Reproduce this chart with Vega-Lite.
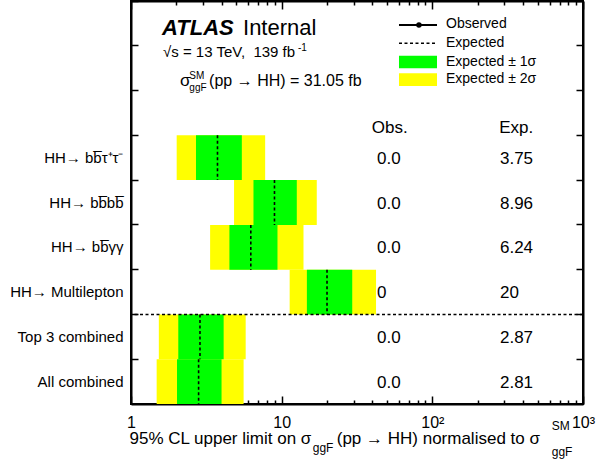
{
  "$schema": "https://vega.github.io/schema/vega-lite/v6.json",
  "width": 452,
  "height": 403,
  "autosize": {"type": "none"},
  "padding": {"left": 131, "top": 1, "right": 26, "bottom": 57},
  "background": "white",
  "config": {
    "view": {"stroke": "black", "strokeWidth": 2},
    "font": "Liberation Sans",
    "text": {"font": "Liberation Sans", "color": "black"}
  },
  "data": {
    "values": [
      {"ch": "HH→ bb̅τ⁺τ⁻", "lo2": 2.01, "lo1": 2.70, "exp": 3.75, "hi1": 5.44, "hi2": 7.77, "obs": "0.0"},
      {"ch": "HH→ bb̅bb̅", "lo2": 4.83, "lo1": 6.50, "exp": 8.96, "hi1": 12.6, "hi2": 17.1, "obs": "0.0"},
      {"ch": "HH→ bb̅γγ", "lo2": 3.35, "lo1": 4.50, "exp": 6.24, "hi1": 9.38, "hi2": 13.96, "obs": "0.0"},
      {"ch": "HH→ Multilepton", "lo2": 11.3, "lo1": 14.7, "exp": 20, "hi1": 29.4, "hi2": 42.3, "obs": "0"},
      {"ch": "Top 3 combined", "lo2": 1.53, "lo1": 2.06, "exp": 2.87, "hi1": 4.12, "hi2": 5.77, "obs": "0.0"},
      {"ch": "All combined", "lo2": 1.48, "lo1": 2.02, "exp": 2.81, "hi1": 3.99, "hi2": 5.59, "obs": "0.0"}
    ]
  },
  "resolve": {"scale": {"y": "independent"}, "axis": {"x": "independent", "y": "independent"}},
  "layer": [
    {
      "mark": {"type": "rect", "color": "#ffff00"},
      "encoding": {
        "y": {"field": "ch", "type": "nominal", "sort": null,
          "scale": {"type": "band", "domain": ["_1", "_2", "_3", "HH→ bb̅τ⁺τ⁻", "HH→ bb̅bb̅", "HH→ bb̅γγ", "HH→ Multilepton", "Top 3 combined", "All combined"], "paddingInner": 0, "paddingOuter": 0},
          "axis": {"orient": "left", "title": null, "grid": false, "bandPosition": 0, "tickSize": -7, "tickWidth": 1.5, "tickColor": "black", "domainColor": "black", "domainWidth": 2, "labelFont": "Liberation Sans", "labelFontSize": 15, "labelColor": "black", "labelPadding": 15, "labelLimit": 200, "labelExpr": "slice(datum.value,0,1)=='_' ? '' : datum.value"}},
        "x": {"field": "lo2", "type": "quantitative",
          "scale": {"type": "log", "domain": [1, 1000], "nice": false},
          "axis": {"orient": "bottom", "title": null, "grid": false, "values": [1,2,3,4,5,6,7,8,9,10,20,30,40,50,60,70,80,90,100,200,300,400,500,600,700,800,900,1000],
            "labelExpr": "datum.value==1?'1':datum.value==10?'10':datum.value==100?'10²':datum.value==1000?'10³':''",
            "tickSize": {"condition": {"test": "indexof([1,10,100,1000], datum.value) >= 0", "value": -8}, "value": -4},
            "tickColor": "black", "tickWidth": 1.5, "domainColor": "black", "domainWidth": 2, "labelFont": "Liberation Sans", "labelFontSize": 16, "labelColor": "black", "labelBaseline": "alphabetic", "labelPadding": 31, "labelFlush": false, "labelOverlap": false}},
        "x2": {"field": "hi2"}
      }
    },
    {
      "mark": {"type": "rect", "color": "#00ff00"},
      "encoding": {
        "y": {"field": "ch", "type": "nominal", "sort": null,
          "scale": {"type": "band", "domain": ["_1", "_2", "_3", "HH→ bb̅τ⁺τ⁻", "HH→ bb̅bb̅", "HH→ bb̅γγ", "HH→ Multilepton", "Top 3 combined", "All combined"], "paddingInner": 0, "paddingOuter": 0}, "axis": null},
        "x": {"field": "lo1", "type": "quantitative", "scale": {"type": "log", "domain": [1, 1000], "nice": false}, "axis": null},
        "x2": {"field": "hi1"}
      }
    },
    {
      "mark": {"type": "rule", "orient": "vertical", "color": "black", "strokeWidth": 1.6, "strokeDash": [3, 2.5], "yOffset": -22.39, "y2Offset": 22.39},
      "encoding": {
        "y": {"field": "ch", "type": "nominal", "sort": null,
          "scale": {"type": "band", "domain": ["_1", "_2", "_3", "HH→ bb̅τ⁺τ⁻", "HH→ bb̅bb̅", "HH→ bb̅γγ", "HH→ Multilepton", "Top 3 combined", "All combined"], "paddingInner": 0, "paddingOuter": 0}, "axis": null},
        "y2": {"field": "ch"},
        "x": {"field": "exp", "type": "quantitative", "scale": {"type": "log", "domain": [1, 1000], "nice": false}, "axis": null}
      }
    },
    {
      "mark": {"type": "text", "align": "left", "baseline": "alphabetic", "dy": 6, "fontSize": 17, "font": "Liberation Sans", "color": "black"},
      "encoding": {
        "y": {"field": "ch", "type": "nominal", "sort": null,
          "scale": {"type": "band", "domain": ["_1", "_2", "_3", "HH→ bb̅τ⁺τ⁻", "HH→ bb̅bb̅", "HH→ bb̅γγ", "HH→ Multilepton", "Top 3 combined", "All combined"], "paddingInner": 0, "paddingOuter": 0}, "axis": null},
        "x": {"datum": 42.9, "type": "quantitative", "scale": {"type": "log", "domain": [1, 1000], "nice": false}, "axis": null},
        "text": {"field": "obs", "type": "nominal"}
      }
    },
    {
      "mark": {"type": "text", "align": "left", "baseline": "alphabetic", "dy": 6, "fontSize": 17, "font": "Liberation Sans", "color": "black"},
      "encoding": {
        "y": {"field": "ch", "type": "nominal", "sort": null,
          "scale": {"type": "band", "domain": ["_1", "_2", "_3", "HH→ bb̅τ⁺τ⁻", "HH→ bb̅bb̅", "HH→ bb̅γγ", "HH→ Multilepton", "Top 3 combined", "All combined"], "paddingInner": 0, "paddingOuter": 0}, "axis": null},
        "x": {"datum": 281.2, "type": "quantitative", "scale": {"type": "log", "domain": [1, 1000], "nice": false}, "axis": null},
        "text": {"field": "exp", "type": "quantitative", "format": "~g"}
      }
    },
    {
      "mark": {"type": "rect", "opacity": 0},
      "encoding": {
        "y": {"field": "ch", "type": "nominal", "sort": null,
          "scale": {"type": "band", "domain": ["_1", "_2", "_3", "HH→ bb̅τ⁺τ⁻", "HH→ bb̅bb̅", "HH→ bb̅γγ", "HH→ Multilepton", "Top 3 combined", "All combined"], "paddingInner": 0, "paddingOuter": 0},
          "axis": {"orient": "right", "title": null, "grid": false, "labels": false, "bandPosition": 0, "tickSize": -7, "tickWidth": 1.5, "tickColor": "black", "domainColor": "black", "domainWidth": 2}},
        "x": {"field": "lo2", "type": "quantitative", "scale": {"type": "log", "domain": [1, 1000], "nice": false},
          "axis": {"orient": "top", "title": null, "grid": false, "labels": false, "values": [1,2,3,4,5,6,7,8,9,10,20,30,40,50,60,70,80,90,100,200,300,400,500,600,700,800,900,1000],
            "tickSize": {"condition": {"test": "indexof([1,10,100,1000], datum.value) >= 0", "value": -8}, "value": -4},
            "tickColor": "black", "tickWidth": 1.5, "domainColor": "black", "domainWidth": 2}},
        "x2": {"field": "hi2"}
      }
    },
    {
      "data": {"values": [{}]},
      "mark": {"type": "rule", "color": "black", "strokeWidth": 1.6, "strokeDash": [3, 2.5]},
      "encoding": {
        "y": {"datum": 7, "type": "quantitative", "scale": {"type": "linear", "domain": [0, 9], "reverse": true, "nice": false, "zero": false}, "axis": null}
      }
    },
    {
      "data": {"values": [{}]},
      "mark": {"type": "text", "text": "ATLAS", "align": "left", "baseline": "alphabetic", "fontSize": 22, "fontWeight": "bold", "fontStyle": "italic", "font": "Liberation Sans", "color": "black"},
      "encoding": {
        "x": {"datum": 1.606, "type": "quantitative", "scale": {"type": "log", "domain": [1, 1000], "nice": false}, "axis": null},
        "y": {"datum": 0.759, "type": "quantitative", "scale": {"type": "linear", "domain": [0, 9], "reverse": true, "nice": false, "zero": false}, "axis": null}
      }
    },
    {
      "data": {"values": [{}]},
      "mark": {"type": "text", "text": "Internal", "align": "left", "baseline": "alphabetic", "fontSize": 22, "font": "Liberation Sans", "color": "black"},
      "encoding": {
        "x": {"datum": 5.54, "type": "quantitative", "scale": {"type": "log", "domain": [1, 1000], "nice": false}, "axis": null},
        "y": {"datum": 0.759, "type": "quantitative", "scale": {"type": "linear", "domain": [0, 9], "reverse": true, "nice": false, "zero": false}, "axis": null}
      }
    },
    {
      "data": {"values": [{}]},
      "mark": {"type": "text", "text": "√s = 13 TeV,\u00a0 139 fb", "align": "left", "baseline": "alphabetic", "fontSize": 15, "font": "Liberation Sans", "color": "black"},
      "encoding": {
        "x": {"datum": 1.631, "type": "quantitative", "scale": {"type": "log", "domain": [1, 1000], "nice": false}, "axis": null},
        "y": {"datum": 1.257, "type": "quantitative", "scale": {"type": "linear", "domain": [0, 9], "reverse": true, "nice": false, "zero": false}, "axis": null}
      }
    },
    {
      "data": {"values": [{}]},
      "mark": {"type": "text", "text": "-1", "align": "left", "baseline": "alphabetic", "fontSize": 10, "font": "Liberation Sans", "color": "black"},
      "encoding": {
        "x": {"datum": 12.83, "type": "quantitative", "scale": {"type": "log", "domain": [1, 1000], "nice": false}, "axis": null},
        "y": {"datum": 1.117, "type": "quantitative", "scale": {"type": "linear", "domain": [0, 9], "reverse": true, "nice": false, "zero": false}, "axis": null}
      }
    },
    {
      "data": {"values": [{}]},
      "mark": {"type": "text", "text": "σ", "align": "left", "baseline": "alphabetic", "fontSize": 17, "font": "Liberation Sans", "color": "black"},
      "encoding": {
        "x": {"datum": 2.114, "type": "quantitative", "scale": {"type": "log", "domain": [1, 1000], "nice": false}, "axis": null},
        "y": {"datum": 1.898, "type": "quantitative", "scale": {"type": "linear", "domain": [0, 9], "reverse": true, "nice": false, "zero": false}, "axis": null}
      }
    },
    {
      "data": {"values": [{}]},
      "mark": {"type": "text", "text": "SM", "align": "left", "baseline": "alphabetic", "fontSize": 10, "font": "Liberation Sans", "color": "black"},
      "encoding": {
        "x": {"datum": 2.44, "type": "quantitative", "scale": {"type": "log", "domain": [1, 1000], "nice": false}, "axis": null},
        "y": {"datum": 1.742, "type": "quantitative", "scale": {"type": "linear", "domain": [0, 9], "reverse": true, "nice": false, "zero": false}, "axis": null}
      }
    },
    {
      "data": {"values": [{}]},
      "mark": {"type": "text", "text": "ggF", "align": "left", "baseline": "alphabetic", "fontSize": 10, "font": "Liberation Sans", "color": "black"},
      "encoding": {
        "x": {"datum": 2.44, "type": "quantitative", "scale": {"type": "log", "domain": [1, 1000], "nice": false}, "axis": null},
        "y": {"datum": 2.01, "type": "quantitative", "scale": {"type": "linear", "domain": [0, 9], "reverse": true, "nice": false, "zero": false}, "axis": null}
      }
    },
    {
      "data": {"values": [{}]},
      "mark": {"type": "text", "text": "(pp → HH) = 31.05 fb", "align": "left", "baseline": "alphabetic", "fontSize": 16, "font": "Liberation Sans", "color": "black"},
      "encoding": {
        "x": {"datum": 3.3, "type": "quantitative", "scale": {"type": "log", "domain": [1, 1000], "nice": false}, "axis": null},
        "y": {"datum": 1.898, "type": "quantitative", "scale": {"type": "linear", "domain": [0, 9], "reverse": true, "nice": false, "zero": false}, "axis": null}
      }
    },
    {
      "data": {"values": [{}]},
      "mark": {"type": "rule", "color": "black", "strokeWidth": 2},
      "encoding": {
        "x": {"datum": 60.08, "type": "quantitative", "scale": {"type": "log", "domain": [1, 1000], "nice": false}, "axis": null},
        "x2": {"datum": 107.4},
        "y": {"datum": 0.536, "type": "quantitative", "scale": {"type": "linear", "domain": [0, 9], "reverse": true, "nice": false, "zero": false}, "axis": null}
      }
    },
    {
      "data": {"values": [{}]},
      "mark": {"type": "point", "filled": true, "color": "black", "opacity": 1, "size": 30},
      "encoding": {
        "x": {"datum": 81.5, "type": "quantitative", "scale": {"type": "log", "domain": [1, 1000], "nice": false}, "axis": null},
        "y": {"datum": 0.536, "type": "quantitative", "scale": {"type": "linear", "domain": [0, 9], "reverse": true, "nice": false, "zero": false}, "axis": null}
      }
    },
    {
      "data": {"values": [{}]},
      "mark": {"type": "rule", "color": "black", "strokeWidth": 1.6, "strokeDash": [3, 2.5]},
      "encoding": {
        "x": {"datum": 60.08, "type": "quantitative", "scale": {"type": "log", "domain": [1, 1000], "nice": false}, "axis": null},
        "x2": {"datum": 107.4},
        "y": {"datum": 0.945, "type": "quantitative", "scale": {"type": "linear", "domain": [0, 9], "reverse": true, "nice": false, "zero": false}, "axis": null}
      }
    },
    {
      "data": {"values": [{}]},
      "mark": {"type": "rect", "color": "#00ff00"},
      "encoding": {
        "x": {"datum": 60.08, "type": "quantitative", "scale": {"type": "log", "domain": [1, 1000], "nice": false}, "axis": null},
        "x2": {"datum": 107.4},
        "y": {"datum": 1.2215, "type": "quantitative", "scale": {"type": "linear", "domain": [0, 9], "reverse": true, "nice": false, "zero": false}, "axis": null},
        "y2": {"datum": 1.503}
      }
    },
    {
      "data": {"values": [{}]},
      "mark": {"type": "rect", "color": "#ffff00"},
      "encoding": {
        "x": {"datum": 60.08, "type": "quantitative", "scale": {"type": "log", "domain": [1, 1000], "nice": false}, "axis": null},
        "x2": {"datum": 107.4},
        "y": {"datum": 1.6146, "type": "quantitative", "scale": {"type": "linear", "domain": [0, 9], "reverse": true, "nice": false, "zero": false}, "axis": null},
        "y2": {"datum": 1.898}
      }
    },
    {
      "data": {"values": [{}]},
      "mark": {"type": "text", "text": "Observed", "align": "left", "baseline": "alphabetic", "fontSize": 14, "font": "Liberation Sans", "color": "black"},
      "encoding": {
        "x": {"datum": 123.2, "type": "quantitative", "scale": {"type": "log", "domain": [1, 1000], "nice": false}, "axis": null},
        "y": {"datum": 0.61, "type": "quantitative", "scale": {"type": "linear", "domain": [0, 9], "reverse": true, "nice": false, "zero": false}, "axis": null}
      }
    },
    {
      "data": {"values": [{}]},
      "mark": {"type": "text", "text": "Expected", "align": "left", "baseline": "alphabetic", "fontSize": 14, "font": "Liberation Sans", "color": "black"},
      "encoding": {
        "x": {"datum": 123.2, "type": "quantitative", "scale": {"type": "log", "domain": [1, 1000], "nice": false}, "axis": null},
        "y": {"datum": 1.034, "type": "quantitative", "scale": {"type": "linear", "domain": [0, 9], "reverse": true, "nice": false, "zero": false}, "axis": null}
      }
    },
    {
      "data": {"values": [{}]},
      "mark": {"type": "text", "text": "Expected ± 1σ", "align": "left", "baseline": "alphabetic", "fontSize": 14, "font": "Liberation Sans", "color": "black"},
      "encoding": {
        "x": {"datum": 123.2, "type": "quantitative", "scale": {"type": "log", "domain": [1, 1000], "nice": false}, "axis": null},
        "y": {"datum": 1.4515, "type": "quantitative", "scale": {"type": "linear", "domain": [0, 9], "reverse": true, "nice": false, "zero": false}, "axis": null}
      }
    },
    {
      "data": {"values": [{}]},
      "mark": {"type": "text", "text": "Expected ± 2σ", "align": "left", "baseline": "alphabetic", "fontSize": 14, "font": "Liberation Sans", "color": "black"},
      "encoding": {
        "x": {"datum": 123.2, "type": "quantitative", "scale": {"type": "log", "domain": [1, 1000], "nice": false}, "axis": null},
        "y": {"datum": 1.838, "type": "quantitative", "scale": {"type": "linear", "domain": [0, 9], "reverse": true, "nice": false, "zero": false}, "axis": null}
      }
    },
    {
      "data": {"values": [{}]},
      "mark": {"type": "text", "text": "Obs.", "align": "left", "baseline": "alphabetic", "fontSize": 17, "font": "Liberation Sans", "color": "black"},
      "encoding": {
        "x": {"datum": 39.6, "type": "quantitative", "scale": {"type": "log", "domain": [1, 1000], "nice": false}, "axis": null},
        "y": {"datum": 2.954, "type": "quantitative", "scale": {"type": "linear", "domain": [0, 9], "reverse": true, "nice": false, "zero": false}, "axis": null}
      }
    },
    {
      "data": {"values": [{}]},
      "mark": {"type": "text", "text": "Exp.", "align": "left", "baseline": "alphabetic", "fontSize": 17, "font": "Liberation Sans", "color": "black"},
      "encoding": {
        "x": {"datum": 278.2, "type": "quantitative", "scale": {"type": "log", "domain": [1, 1000], "nice": false}, "axis": null},
        "y": {"datum": 2.954, "type": "quantitative", "scale": {"type": "linear", "domain": [0, 9], "reverse": true, "nice": false, "zero": false}, "axis": null}
      }
    },
    {
      "data": {"values": [{}]},
      "mark": {"type": "text", "text": "95% CL upper limit on σ", "align": "left", "baseline": "alphabetic", "fontSize": 17, "font": "Liberation Sans", "color": "black"},
      "encoding": {
        "x": {"datum": 0.977, "type": "quantitative", "scale": {"type": "log", "domain": [1, 1000], "nice": false}, "axis": null},
        "y": {"datum": 9.893, "type": "quantitative", "scale": {"type": "linear", "domain": [0, 9], "reverse": true, "nice": false, "zero": false}, "axis": null}
      }
    },
    {
      "data": {"values": [{}]},
      "mark": {"type": "text", "text": "ggF", "align": "left", "baseline": "alphabetic", "fontSize": 12, "font": "Liberation Sans", "color": "black"},
      "encoding": {
        "x": {"datum": 16.07, "type": "quantitative", "scale": {"type": "log", "domain": [1, 1000], "nice": false}, "axis": null},
        "y": {"datum": 10.07, "type": "quantitative", "scale": {"type": "linear", "domain": [0, 9], "reverse": true, "nice": false, "zero": false}, "axis": null}
      }
    },
    {
      "data": {"values": [{}]},
      "mark": {"type": "text", "text": "(pp → HH) normalised to σ", "align": "left", "baseline": "alphabetic", "fontSize": 17, "font": "Liberation Sans", "color": "black"},
      "encoding": {
        "x": {"datum": 23.2, "type": "quantitative", "scale": {"type": "log", "domain": [1, 1000], "nice": false}, "axis": null},
        "y": {"datum": 9.893, "type": "quantitative", "scale": {"type": "linear", "domain": [0, 9], "reverse": true, "nice": false, "zero": false}, "axis": null}
      }
    },
    {
      "data": {"values": [{}]},
      "mark": {"type": "text", "text": "SM", "align": "left", "baseline": "alphabetic", "fontSize": 12, "font": "Liberation Sans", "color": "black"},
      "encoding": {
        "x": {"datum": 620, "type": "quantitative", "scale": {"type": "log", "domain": [1, 1000], "nice": false}, "axis": null},
        "y": {"datum": 9.58, "type": "quantitative", "scale": {"type": "linear", "domain": [0, 9], "reverse": true, "nice": false, "zero": false}, "axis": null}
      }
    },
    {
      "data": {"values": [{}]},
      "mark": {"type": "text", "text": "ggF", "align": "left", "baseline": "alphabetic", "fontSize": 12, "font": "Liberation Sans", "color": "black"},
      "encoding": {
        "x": {"datum": 620, "type": "quantitative", "scale": {"type": "log", "domain": [1, 1000], "nice": false}, "axis": null},
        "y": {"datum": 10.16, "type": "quantitative", "scale": {"type": "linear", "domain": [0, 9], "reverse": true, "nice": false, "zero": false}, "axis": null}
      }
    }
  ]
}
